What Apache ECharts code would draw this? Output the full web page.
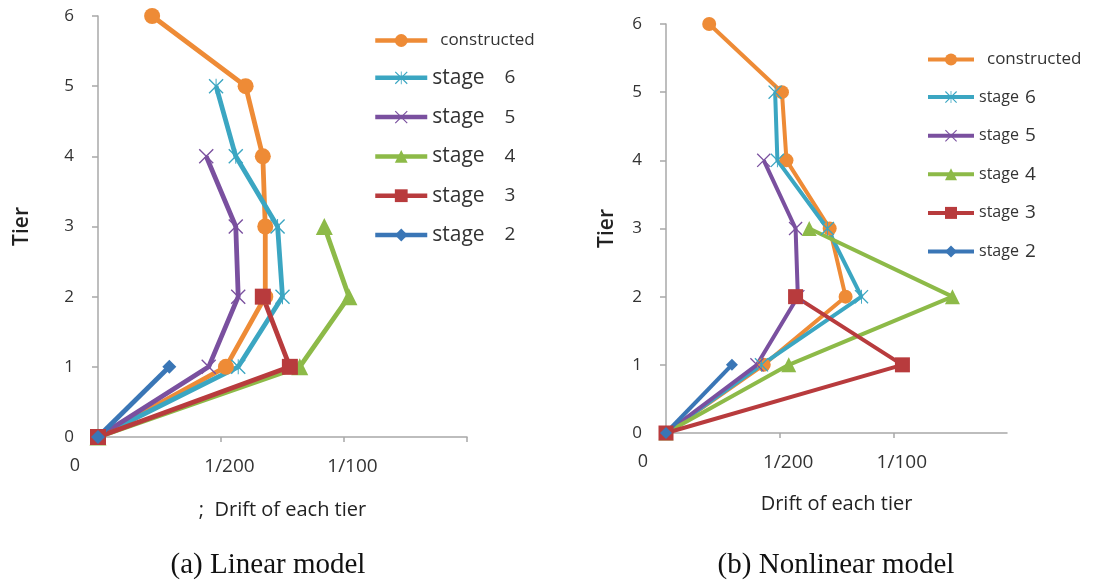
<!DOCTYPE html>
<html>
<head>
<meta charset="utf-8">
<style>html,body{margin:0;padding:0;background:#fff;}#c{width:1102px;height:582px;}</style>
<script src="https://cdn.jsdelivr.net/npm/echarts@6/dist/echarts.min.js"></script>
</head>
<body>
<div id="c"></div>
<script>
// ---- data ----
const tiers = [0, 1, 2, 3, 4, 5, 6];
const seriesNames = ['constructed', 'stage 6', 'stage 5', 'stage 4', 'stage 3', 'stage 2'];
const xTickLabels = ['0', '1/200', '1/100', ''];
const yTickLabels = ['0', '1', '2', '3', '4', '5', '6'];
// Linear model drift per tier (index = tier)
const constructedLin = [0, 0.0052, 0.0068, 0.0068, 0.0067, 0.0060, 0.0022];
const stage6Lin = [0, 0.0057, 0.0075, 0.0073, 0.0056, 0.0048];
const stage5Lin = [0, 0.0045, 0.0057, 0.0056, 0.0044];
const stage4Lin = [0, 0.0082, 0.0102, 0.0092];
const stage3Lin = [0, 0.0078, 0.0067];
const stage2Lin = [0, 0.0029];
// Nonlinear model drift per tier
const constructedNl = [0, 0.0043, 0.0079, 0.0072, 0.0053, 0.0051, 0.0019];
const stage6Nl = [0, 0.0042, 0.0086, 0.0071, 0.0049, 0.0048];
const stage5Nl = [0, 0.0040, 0.0058, 0.0057, 0.0043];
const stage4Nl = [0, 0.0054, 0.0126, 0.0063];
const stage3Nl = [0, 0.0104, 0.0057];
const stage2Nl = [0, 0.0029];
const captions = ['(a) Linear model', '(b) Nonlinear model'];
const xNames = [';  Drift of each tier', 'Drift of each tier'];
const yName = 'Tier';
const xTickValues = [[0, 0.005, 0.01, 0.015], [0, 0.005, 0.01]];

// ---- styles ----
const colors = ['#EE8B36', '#3BA6C2', '#7A509F', '#8DBA48', '#B83B3D', '#3A76B6'];
const asterisk = 'path://M0,1.3 L1.3,0 L20,18.7 L18.7,20 Z M18.7,0 L20,1.3 L1.3,20 L0,18.7 Z M9.35,0 L10.65,0 L10.65,20 L9.35,20 Z';
const xMark = 'path://M0,1.3 L1.3,0 L20,18.7 L18.7,20 Z M18.7,0 L20,1.3 L1.3,20 L0,18.7 Z';
const symbols = ['circle', asterisk, xMark, 'triangle', 'rect', 'diamond'];
const symSizes = [[16, 15, 15, 17, 16, 14], [14, 14, 14, 15, 15, 12]];
const lineWidths = [4.8, 4];
const FONT = 'Open Sans';

const linSets = [constructedLin, stage6Lin, stage5Lin, stage4Lin, stage3Lin, stage2Lin];
const nlSets = [constructedNl, stage6Nl, stage5Nl, stage4Nl, stage3Nl, stage2Nl];

function pairs(arr) { return arr.map((x, i) => [x, tiers[i]]); }

const series = [];
[linSets, nlSets].forEach((sets, g) => {
  sets.forEach((arr, k) => {
    series.push({
      name: seriesNames[k],
      type: 'line',
      xAxisIndex: g, yAxisIndex: g,
      data: pairs(arr),
      symbol: symbols[k],
      symbolSize: symSizes[g][k],
      showAllSymbol: true,
      clip: false,
      color: colors[k],
      lineStyle: { width: lineWidths[g], color: colors[k] },
      itemStyle: { color: colors[k] },
      emphasis: { disabled: true },
      animation: false
    });
  });
});

function xAxis(g, gridIndex, nameGap) {
  return {
    type: 'value', gridIndex: gridIndex, min: 0, max: 0.015, interval: 0.005,
    name: xNames[g], nameLocation: 'middle', nameGap: nameGap,
    nameTextStyle: { fontFamily: FONT, fontSize: 20, color: '#222' },
    axisLine: { lineStyle: { color: '#A8A8A8', width: 1.5 } },
    axisTick: { show: true, length: 5, customValues: xTickValues[g], lineStyle: { color: '#A8A8A8', width: 1.5 } },
    splitLine: { show: false },
    axisLabel: {
      margin: 20,
      formatter: function (v) {
        const i = Math.round(v / 0.005);
        if (i === 0) return '{z|' + xTickLabels[0] + '}';
        return '{t|' + xTickLabels[i] + '}';
      },
      rich: {
        z: { fontFamily: FONT, fontSize: 18, color: '#333', padding: [0, 46, 0, 0] },
        t: { fontFamily: FONT, fontSize: 19, color: '#333', padding: [0, 0, 0, 17] }
      }
    }
  };
}
function yAxis(gridIndex, nameGap) {
  return {
    type: 'value', gridIndex: gridIndex, min: 0, max: 6, interval: 1,
    name: yName, nameLocation: 'middle', nameGap: nameGap,
    nameTextStyle: { fontFamily: FONT, fontSize: 21, fontWeight: 600, color: '#222' },
    axisLine: { show: true, lineStyle: { color: '#A8A8A8', width: 1.5 } },
    axisTick: { show: true, length: 6, lineStyle: { color: '#A8A8A8', width: 1.5 } },
    splitLine: { show: false },
    axisLabel: {
      margin: 24, fontFamily: FONT, fontSize: 17, color: '#333',
      formatter: function (v) { return yTickLabels[Math.round(v)]; }
    }
  };
}

function legendFmt(name) {
  if (name === 'constructed') return '{c|constructed}';
  const parts = name.split(' ');
  return '{s|' + parts[0] + '}{n|' + parts[1] + '}';
}

const option = {
  backgroundColor: '#fff',
  animation: false,
  grid: [
    { left: 98, right: 635, top: 16, bottom: 145 },
    { left: 666, right: 95, top: 24, bottom: 149 }
  ],
  xAxis: [xAxis(0, 0, 63), xAxis(1, 1, 61)],
  yAxis: [yAxis(0, 65), yAxis(1, 48)],
  legend: [
    {
      data: seriesNames, orient: 'vertical', left: 368, top: 27,
      itemWidth: 52, itemHeight: 16, itemGap: 18.3, selectedMode: false,
      lineStyle: { width: 4.5 },
      formatter: legendFmt,
      textStyle: {
        rich: {
          c: { fontFamily: FONT, fontSize: 17, color: '#333', lineHeight: 24, padding: [0, 0, 0, 8] },
          s: { fontFamily: FONT, fontSize: 21, color: '#333', lineHeight: 24 },
          n: { fontFamily: FONT, fontSize: 19, color: '#333', lineHeight: 24, padding: [0, 0, 0, 20] }
        }
      }
    },
    {
      data: seriesNames, orient: 'vertical', left: 921, top: 46,
      itemWidth: 46, itemHeight: 15, itemGap: 19.6, selectedMode: false,
      lineStyle: { width: 4 },
      formatter: legendFmt,
      textStyle: {
        rich: {
          c: { fontFamily: FONT, fontSize: 17, color: '#333', lineHeight: 22, padding: [0, 0, 0, 8] },
          s: { fontFamily: FONT, fontSize: 16, color: '#333', lineHeight: 22 },
          n: { fontFamily: FONT, fontSize: 19, color: '#333', lineHeight: 22, padding: [0, 0, 0, 6] }
        }
      }
    }
  ],
  graphic: [
    { type: 'text', x: 268, y: 565, style: { text: captions[0], fontFamily: 'Liberation Serif', fontSize: 29, fill: '#111', align: 'center', verticalAlign: 'middle' } },
    { type: 'text', x: 836, y: 565, style: { text: captions[1], fontFamily: 'Liberation Serif', fontSize: 29, fill: '#111', align: 'center', verticalAlign: 'middle' } }
  ],
  series: series
};

const chart = echarts.init(document.getElementById('c'), null, { renderer: 'canvas' });
chart.setOption(option);
</script>
</body>
</html>
